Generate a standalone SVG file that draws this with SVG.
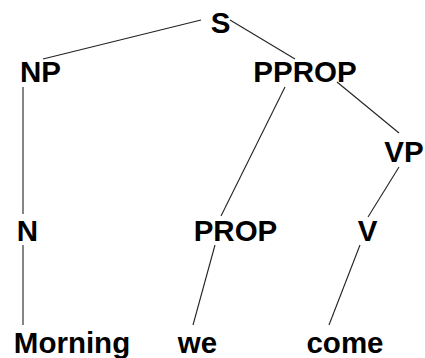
<svg xmlns="http://www.w3.org/2000/svg" width="425" height="358" viewBox="0 0 425 358">
<style>
.t{font-family:"Liberation Sans",Arial,sans-serif;font-weight:bold;font-size:29.5px;fill:#000;text-anchor:middle}
.e{stroke:#222;stroke-width:1.1;fill:none}
</style>
<rect width="425" height="358" fill="#fff"/>
<g id="connectors">
<line class="e" x1="201" y1="20" x2="43" y2="59"/>
<line class="e" x1="230" y1="20" x2="295" y2="59"/>
<line class="e" x1="23" y1="87" x2="23" y2="214"/>
<line class="e" x1="285" y1="87" x2="221" y2="216"/>
<line class="e" x1="337" y1="82" x2="399" y2="133"/>
<line class="e" x1="399" y1="167" x2="368" y2="217"/>
<line class="e" x1="23" y1="245" x2="23" y2="325"/>
<line class="e" x1="215" y1="245" x2="193" y2="325"/>
<line class="e" x1="360" y1="245" x2="329" y2="325"/>
</g>
<g id="S"><text class="t" x="220.5" y="33">S</text></g>
<g id="NP"><text class="t" x="40.5" y="82">NP</text></g>
<g id="PPROP"><text class="t" x="305" y="82">PPROP</text></g>
<g id="VP"><text class="t" x="404" y="162">VP</text></g>
<g id="N"><text class="t" x="27.5" y="241">N</text></g>
<g id="PROP"><text class="t" x="235.5" y="241">PROP</text></g>
<g id="V"><text class="t" x="367.5" y="241">V</text></g>
<g id="Morning"><text class="t" x="72" y="353">Morning</text></g>
<g id="we"><text class="t" x="197.5" y="353">we</text></g>
<g id="come"><text class="t" x="345" y="353">come</text></g>
</svg>
